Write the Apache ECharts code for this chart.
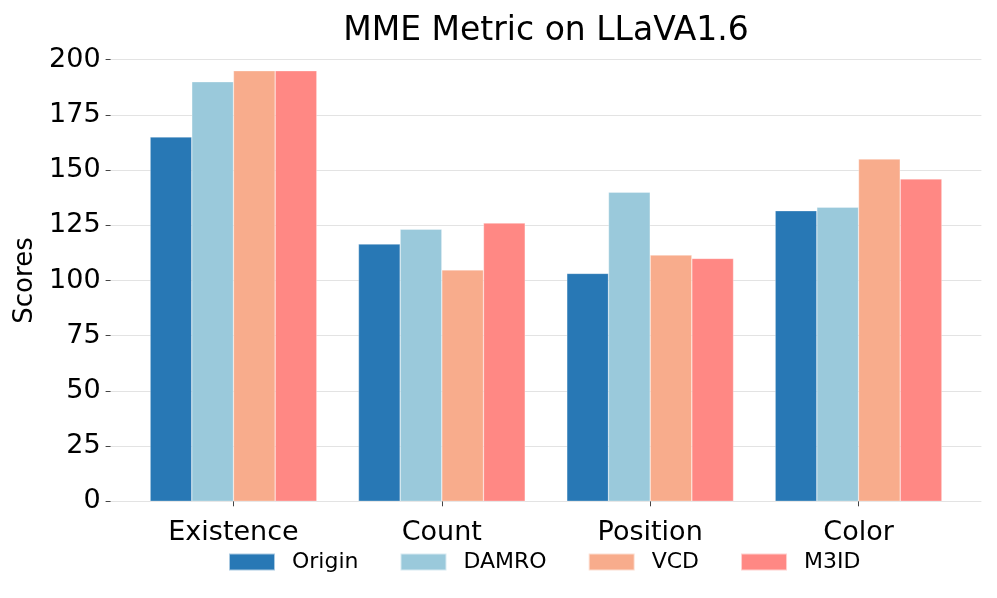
<!DOCTYPE html>
<html>
<head>
<meta charset="utf-8">
<script src="https://cdn.jsdelivr.net/npm/echarts@6/dist/echarts.min.js"></script>
<style>html,body{margin:0;padding:0;background:#fff}#c{width:997px;height:598px}</style>
</head>
<body>
<div id="c"></div>
<script>
const categories = ['Existence', 'Count', 'Position', 'Color'];
const seriesNames = ['Origin', 'DAMRO', 'VCD', 'M3ID'];
const origin = [165, 116.5, 103.2, 131.6];
const damro = [190, 123.2, 140, 133.2];
const vcd = [195, 104.8, 111.5, 155];
const m3id = [195, 126, 110, 146];
const yTicks = [0, 25, 50, 75, 100, 125, 150, 175, 200];
const colors = ['#2878b5', '#9ac9db', '#f8ac8c', '#ff8884'];

const font = 'DejaVu Sans';
const chart = echarts.init(document.getElementById('c'));
const values = [origin, damro, vcd, m3id];
chart.setOption({
  animation: false,
  backgroundColor: '#fff',
  textStyle: { fontFamily: font },
  title: {
    text: 'MME Metric on LLaVA1.6',
    left: 546, top: 15, textAlign: 'center', padding: 0,
    textStyle: { fontFamily: font, fontSize: 33, fontWeight: 'normal', color: '#000' }
  },
  legend: {
    data: seriesNames,
    left: 228, top: 551, padding: 0,
    itemWidth: 46, itemHeight: 17, itemGap: 41,
    icon: 'rect',
    textStyle: { fontFamily: font, fontSize: 22, color: '#000', padding: [0, 0, 0, 12] }
  },
  grid: [
    { left: 110.6, right: 15.6, top: 59.7, bottom: 96.7 },
    { left: 129.3, right: 34.3, top: 59.7, bottom: 96.7 }
  ],
  xAxis: [
    { type: 'value', gridIndex: 0, show: false, min: 0, max: 1 },
    {
      type: 'category', gridIndex: 1, data: categories,
      axisLine: { show: false },
      axisTick: { show: true, alignWithLabel: true, length: 5, lineStyle: { color: '#444' } },
      axisLabel: { fontFamily: font, fontSize: 27, color: '#000', margin: 18 }
    }
  ],
  yAxis: [
    {
      type: 'value', gridIndex: 0, min: yTicks[0], max: yTicks[yTicks.length - 1], interval: 25,
      name: 'Scores', nameLocation: 'middle', nameGap: 66,
      nameTextStyle: { fontFamily: font, fontSize: 26, color: '#000' },
      axisLine: { show: false },
      axisTick: { show: true, length: 5, lineStyle: { color: '#444' } },
      axisLabel: { fontFamily: font, fontSize: 27, color: '#000', margin: 10, lineHeight: 32, verticalAlign: 'middle' },
      splitLine: { show: true, lineStyle: { color: '#e3e3e3', width: 1 } }
    },
    { type: 'value', gridIndex: 1, min: 0, max: 200, show: false, splitLine: { show: false } }
  ],
  series: seriesNames.map((n, i) => ({
    name: n, type: 'bar', xAxisIndex: 1, yAxisIndex: 1,
    data: values[i],
    barGap: '0%', barCategoryGap: '20%',
    itemStyle: { color: colors[i], borderColor: 'rgba(255,255,255,0.6)', borderWidth: 0.5 }
  }))
});
</script>
</body>
</html>
